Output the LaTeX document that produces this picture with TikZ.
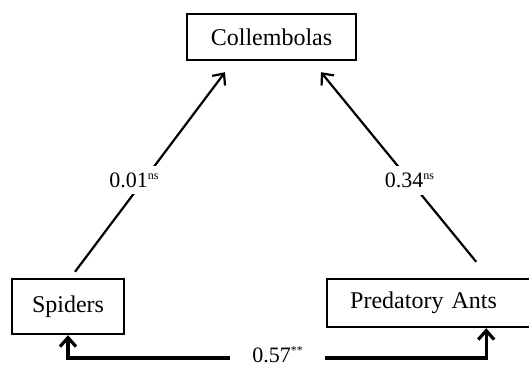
\documentclass[tikz,border=0pt]{standalone}
\usepackage{fontspec}
\setmainfont{Liberation Serif}
\usetikzlibrary{arrows.meta,positioning}
\newcommand{\sig}[1]{\raisebox{8pt}{\fontsize{12}{12}\selectfont #1}}

\begin{document}
\begin{tikzpicture}[x=1pt,y=-1pt,
  box/.style={draw=black,line width=2.4pt,inner xsep=20pt,
    font=\fontsize{24}{28}\selectfont},
  arr/.style={-{Straight Barb[length=9pt,width=16pt]},line width=2.2pt},
  barr/.style={-{Straight Barb[length=9pt,width=16pt]},line width=3.2pt},
  coef/.style={fill=white,inner sep=7pt,font=\fontsize{22}{26}\selectfont}
]
\useasboundingbox (0,0) rectangle (529,366);
\node[box,minimum width=169pt,minimum height=46pt] (coll) at (271.5,37) {Collembolas};
\node[box,minimum width=112pt,minimum height=55pt] (spid) at (68,306.5) {Spiders};
\node[box,anchor=west,text width=200pt,inner xsep=23pt,minimum height=48pt] (ants) at (326,303) {Predatory Ants};
\draw[arr] ([xshift=7pt,yshift=6pt]spid.north) -- node[coef,pos=0.46,xshift=-10pt] {0.01\sig{ns}} ([xshift=-46.5pt,yshift=-11pt]coll.south);
\draw[arr] ([xshift=26pt,yshift=16pt]ants.north) -- node[coef,pos=0.43] {0.34\sig{ns}} ([xshift=49.5pt,yshift=-11pt]coll.south);
\node[coef,inner xsep=22pt,inner ysep=0pt] (r) at (277.5,358) {0.57\sig{**}\rule[-6.5pt]{0pt}{0pt}};
\draw[barr] (r.west) -| (spid.south);
\draw[barr] (r.east) -| ([xshift=36pt]ants.south);
\end{tikzpicture}
\end{document}
